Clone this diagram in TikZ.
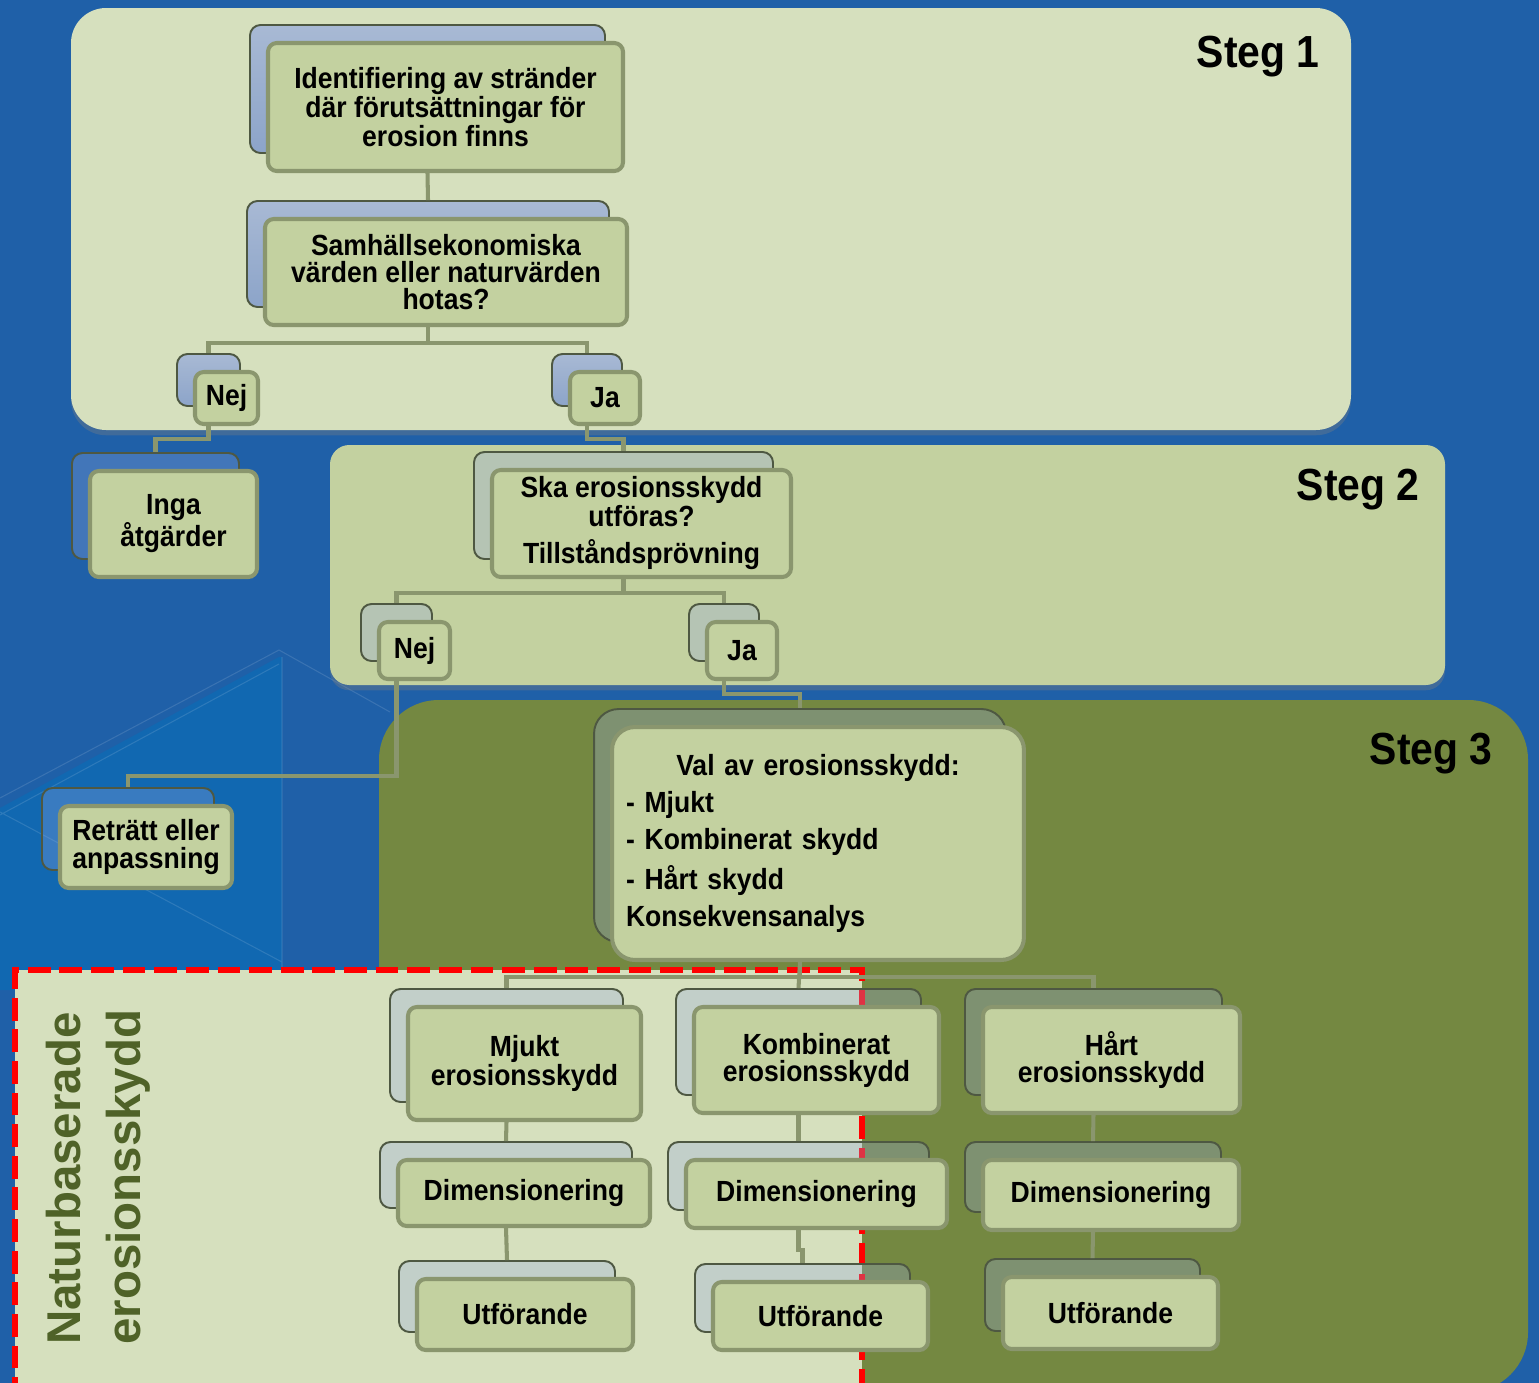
\documentclass[tikz,border=0pt]{standalone}
\usepackage{fontspec}
\usetikzlibrary{shadows}
\newfontfamily\boxfont[FakeStretch=0.91]{Liberation Sans}
\newfontfamily\sidefont{Liberation Sans}
\definecolor{bgblue}{RGB}{31,96,168}
\definecolor{bglight}{RGB}{17,104,177}
\definecolor{paleleaf}{RGB}{214,224,190}
\definecolor{leaf}{RGB}{195,209,160}
\definecolor{olive}{RGB}{116,136,65}
\definecolor{rim}{RGB}{138,150,110}
\definecolor{darkrim}{RGB}{78,88,66}
\definecolor{haze}{RGB}{150,169,227}
\definecolor{mist}{RGB}{168,185,212}
\definecolor{mistdark}{RGB}{140,164,201}
\definecolor{sidegreen}{RGB}{79,98,40}
\definecolor{alarm}{RGB}{255,0,0}
\tikzset{
  frontbox/.style={draw=rim,fill=leaf,line width=2.3pt,rounded corners=5pt,
    align=center,inner sep=0pt,font=\boxfont\bfseries\fontsize{16.6}{15.4}\selectfont},
  backbox/.style={draw=darkrim,line width=1.1pt,rounded corners=6pt,
    fill=haze,fill opacity=0.3,inner sep=0pt},
  backboxA/.style={backbox,fill opacity=1,top color=mist,bottom color=mistdark},
  conn/.style={draw=rim,line width=2.3pt},
  steglabel/.style={anchor=east,inner sep=0pt,
    font=\boxfont\bfseries\fontsize{25.6}{28}\selectfont},
  panel/.style={drop shadow={shadow xshift=0pt,shadow yshift=-3pt,opacity=0.35}},
}
% back box + front box, front given by centre and size in px
\newcommand\duo[7][backbox]{%
  \pgfmathsetmacro{\bw}{#5*0.02}%
  \pgfmathsetmacro{\bh}{#6*0.02}%
  \node[#1,minimum width=\bw cm,minimum height=\bh cm] (#2-b) at (#3-18,#4-18) {};
  \node[frontbox,minimum width=\bw cm,minimum height=\bh cm] (#2) at (#3,#4) {#7};}
\begin{document}
\begin{tikzpicture}[x=0.02cm,y=-0.02cm]
\path[use as bounding box,clip] (0,0) rectangle (1539,1383);
\fill[bgblue] (0,0) rectangle (1539,1383);
\fill[bglight] (0,808) -- (279,657) -- (282,657) -- (282,990) -- (0,990) -- cycle;
\draw[white,opacity=0.12,line width=0.6pt] (0,798) -- (279,650) -- (390,712)
  (0,815) -- (279,664) (282,657) -- (282,990) (0,812) -- (282,962);
% panels
\fill[paleleaf,rounded corners=20pt,panel] (71,8) rectangle (1351,430);
\fill[leaf,rounded corners=11pt,panel] (330,445) rectangle (1445,685);
\fill[olive,rounded corners=34pt] (379,700) rectangle (1528,1392);
\draw[alarm,line width=3.4pt,dash pattern=on 13pt off 5pt,fill=paleleaf]
  (15,1400) -- (15,970) -- (862,970) -- (862,1400);
\node[steglabel] (s1) at (1320,57) {Steg 1};
\node[steglabel] (s2) at (1420,490) {Steg 2};
\node[steglabel] (s3) at (1493,754) {Steg 3};
\node[rotate=90,anchor=north west,align=left,inner sep=0pt,text=sidegreen,
  font=\sidefont\bfseries\fontsize{27}{34}\selectfont] (side) at (46,1345)
  {Naturbaserade\\erosionsskydd};
% boxes
\duo[backboxA]{ident}{445.5}{107}{355}{128}{Identifiering av stränder\\där förutsättningar för\\erosion finns}
\duo[backboxA]{hot}{446}{272}{362}{106}{Samhällsekonomiska\\värden eller naturvärden\\hotas?}
\duo[backboxA]{nejA}{226.5}{398}{63}{52}{Nej}
\duo[backboxA]{jaA}{605}{398}{70}{52}{Ja}
\duo{inga}{173.5}{524}{167}{106}{Inga\\åtgärder}
\duo{ska}{641.5}{523.5}{299}{107}{Ska erosionsskydd\\utföras?\\[5.7pt]Tillståndsprövning}
\duo{nejB}{414.5}{650.5}{71}{57}{Nej}
\duo{jaB}{742}{650.5}{70}{57}{Ja}
\duo{retr}{146}{847}{172}{82}{Reträtt eller\\anpassning}
\node[backbox,rounded corners=14pt,minimum width=8.24cm,minimum height=4.66cm] (val-b) at (800,825.5) {};
\node[frontbox,rounded corners=13pt,minimum width=8.24cm,minimum height=4.66cm,
  text width=7.68cm,align=left] (val) at (818,843.5)
  {\makebox[\linewidth]{Val av erosionsskydd:}\\[4.7pt]- Mjukt\\[4.7pt]- Kombinerat skydd\\[4.7pt]- Hårt skydd\\[4.7pt]Konsekvensanalys};
\duo{mjukt}{524.5}{1063.5}{233}{113}{Mjukt\\erosionsskydd}
\duo{komb}{816.5}{1060}{245}{106}{Kombinerat\\erosionsskydd}
\duo{hart}{1111.5}{1060}{257}{106}{Hårt\\erosionsskydd}
\duo{dimA}{524}{1193}{252}{66}{Dimensionering}
\duo{dimB}{816.5}{1194}{261}{68}{Dimensionering}
\duo{dimC}{1111}{1195}{256}{70}{Dimensionering}
\duo{utfA}{525}{1314.5}{216}{71}{Utförande}
\duo{utfB}{820.5}{1316}{215}{68}{Utförande}
\duo{utfC}{1110.5}{1313}{215}{72}{Utförande}
% connectors
\draw[conn] (ident.south -| ident-b) -- (hot-b.north);
\draw[conn] (hot.south -| hot-b) -- ++(0,16) -| (nejA-b.north);
\draw[conn] (hot.south -| hot-b) -- ++(0,16) -| (jaA-b.north);
\draw[conn] (nejA.south -| nejA-b) -- ++(0,13) -| (inga-b.north);
\draw[conn] (jaA.south -| jaA-b) -- ++(0,13) -| (ska-b.north);
\draw[conn] (ska.south -| ska-b) -- ++(0,14) -| (nejB-b.north);
\draw[conn] (ska.south -| ska-b) -- ++(0,14) -| (jaB-b.north);
\draw[conn] (nejB.south -| nejB-b) -- ++(0,95) -| (retr-b.north);
\draw[conn] (jaB.south -| jaB-b) -- ++(0,13) -| (val-b.north);
\draw[conn] (val.south -| val-b) -- ++(0,15) -| (mjukt-b.north);
\draw[conn] (val.south -| val-b) -- ++(0,15) -| (hart-b.north);
\draw[conn] (val.south -| val-b) -- (komb-b.north);
\draw[conn] (mjukt.south -| mjukt-b) -- (dimA-b.north);
\draw[conn] (komb.south -| komb-b) -- (dimB-b.north);
\draw[conn] (hart.south -| hart-b) -- (dimC-b.north);
\draw[conn] (dimA.south -| dimA-b) -- (utfA-b.north);
\draw[conn] (dimB.south -| dimB-b) -- ++(0,20) -| (utfB-b.north);
\draw[conn] (dimC.south -| dimC-b) -- (utfC-b.north);
\end{tikzpicture}
\end{document}
